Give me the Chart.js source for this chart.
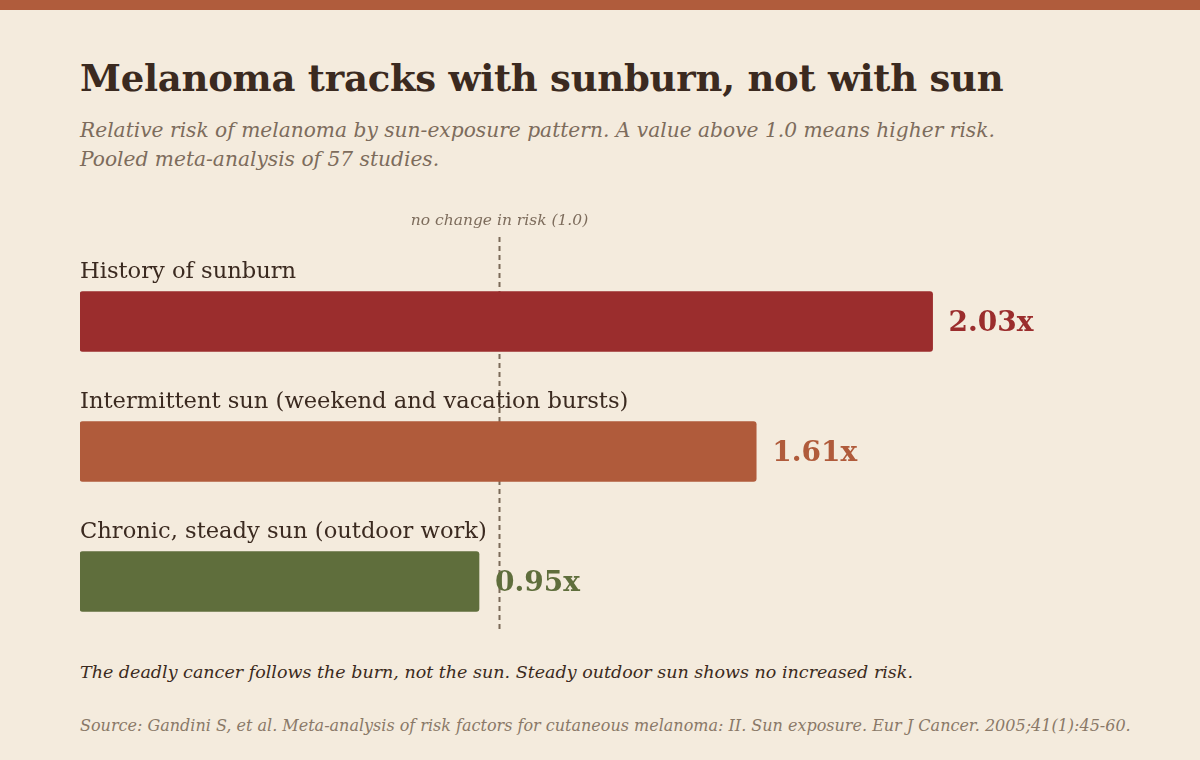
<!DOCTYPE html>
<html>
<head>
<meta charset="utf-8">
<script src="https://cdn.jsdelivr.net/npm/chart.js@4/dist/chart.umd.min.js"></script>
<style>
  html, body { margin: 0; padding: 0; }
  body { width: 1200px; height: 760px; background: #f4ebdd; position: relative; overflow: hidden;
         font-family: "DejaVu Serif", Georgia, serif; }
  .topbar { position: absolute; left: 0; top: 0; width: 1200px; height: 10px; background: #b05c3c; }
  .t { position: absolute; left: 80px; white-space: nowrap; }
  #title { top: 56px; font-size: 37px; font-weight: bold; color: #3b2a20; letter-spacing: -0.25px; }
  #sub { top: 116px; font-size: 20.2px; font-style: italic; color: #7d6c5c; line-height: 29px; }
  #note { top: 662px; font-size: 17.5px; font-style: italic; color: #3b2a20; }
  #src { top: 716px; font-size: 16px; font-style: italic; color: #8a7968; }
  #wrap { position: absolute; left: 0; top: 0; width: 1200px; height: 760px; }
</style>
</head>
<body>
<div class="topbar"></div>
<div id="title" class="t">Melanoma tracks with sunburn, not with sun</div>
<div id="sub" class="t">Relative risk of melanoma by sun-exposure pattern. A value above 1.0 means higher risk.<br>Pooled meta-analysis of 57 studies.</div>
<div id="note" class="t">The deadly cancer follows the burn, not the sun. Steady outdoor sun shows no increased risk.</div>
<div id="src" class="t">Source: Gandini S, et al. Meta-analysis of risk factors for cutaneous melanoma: II. Sun exposure. Eur J Cancer. 2005;41(1):45-60.</div>
<div id="wrap"><canvas id="c" width="1200" height="760"></canvas></div>
<script>
const categories = [
  "History of sunburn",
  "Intermittent sun (weekend and vacation bursts)",
  "Chronic, steady sun (outdoor work)"
];
const riskValues = [2.03, 1.61, 0.95];
const valueLabels = ["2.03x", "1.61x", "0.95x"];
const barColors = ["#9b2d2d", "#b05b3b", "#5f6e3c"];
const referenceValue = 1.0;
const referenceLabel = "no change in risk (1.0)";

const FONT = '"DejaVu Serif", Georgia, serif';

const labelPlugin = {
  id: 'labels',
  beforeDatasetsDraw(chart) {
    const ctx = chart.ctx;
    const xs = chart.scales.x;
    const x = Math.round(xs.getPixelForValue(referenceValue)) - 0.5;
    ctx.save();
    ctx.strokeStyle = '#7a6a58';
    ctx.lineWidth = 2;
    ctx.setLineDash([5, 4]);
    ctx.beginPath();
    ctx.moveTo(x, 237);
    ctx.lineTo(x, 630);
    ctx.stroke();
    ctx.setLineDash([]);
    ctx.font = 'italic 15.5px ' + FONT;
    ctx.fillStyle = '#7d6c5c';
    ctx.textAlign = 'center';
    ctx.textBaseline = 'middle';
    ctx.fillText(referenceLabel, x, 221);
    ctx.restore();
  },
  afterDatasetsDraw(chart) {
    const ctx = chart.ctx;
    const meta = chart.getDatasetMeta(0);
    const xs = chart.scales.x;
    ctx.save();
    meta.data.forEach((bar, i) => {
      const top = bar.y - bar.height / 2;
      ctx.font = '22.6px ' + FONT;
      ctx.fillStyle = '#3b2a20';
      ctx.textAlign = 'left';
      ctx.textBaseline = 'alphabetic';
      ctx.fillText(categories[i], xs.left, top - 14);
      ctx.font = 'bold 28px ' + FONT;
      ctx.fillStyle = barColors[i];
      ctx.textBaseline = 'middle';
      ctx.fillText(valueLabels[i], bar.x + 16, bar.y + 2);
    });
    ctx.restore();
  }
};

new Chart(document.getElementById('c'), {
  type: 'bar',
  data: {
    labels: categories,
    datasets: [{
      data: riskValues,
      backgroundColor: barColors,
      borderRadius: 3,
      borderSkipped: false,
      barThickness: 60
    }]
  },
  options: {
    indexAxis: 'y',
    responsive: false,
    animation: false,
    devicePixelRatio: 1,
    layout: { padding: { left: 80, right: 70, top: 256.5, bottom: 113.5 } },
    plugins: { legend: { display: false }, tooltip: { enabled: false } },
    scales: {
      x: { display: false, min: 0, max: 2.5, grid: { display: false } },
      y: { display: false, grid: { display: false } }
    }
  },
  plugins: [labelPlugin]
});
</script>
</body>
</html>
